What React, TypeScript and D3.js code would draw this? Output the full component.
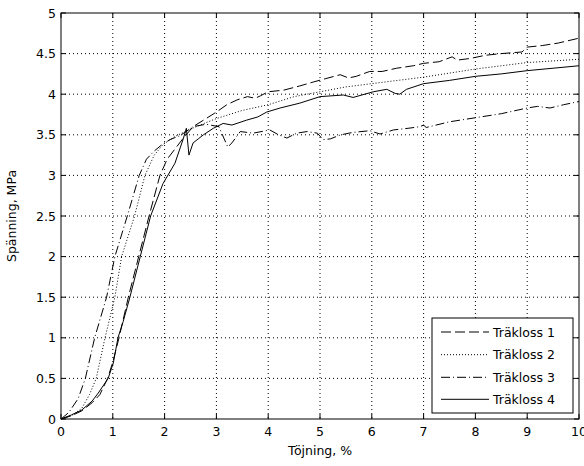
import React from "react";
import * as d3 from "d3";

const xTicks = [0, 1, 2, 3, 4, 5, 6, 7, 8, 9, 10];
const yTicks = [0, 0.5, 1, 1.5, 2, 2.5, 3, 3.5, 4, 4.5, 5];
const yTickLabels = ["0", "0.5", "1", "1.5", "2", "2.5", "3", "3.5", "4", "4.5", "5"];
const seriesNames = ["Träkloss 1", "Träkloss 2", "Träkloss 3", "Träkloss 4"];

const x1 = [0, 0.2, 0.4, 0.6, 0.75, 0.9, 1.0, 1.12, 1.3, 1.5, 1.7, 1.91, 2.05, 2.23, 2.35, 2.55, 2.8, 3.0, 3.2, 3.4, 3.6, 3.75, 3.85, 4.0, 4.3, 4.6, 4.87, 5.1, 5.39, 5.55, 5.7, 5.96, 6.2, 6.48, 6.8, 7.0, 7.3, 7.55, 7.65, 7.9, 8.2, 8.5, 8.9, 9.0, 9.3, 9.6, 10];
const y1 = [0, 0.04, 0.1, 0.2, 0.3, 0.5, 0.7, 1.0, 1.5, 2.0, 2.5, 3.0, 3.2, 3.35, 3.45, 3.6, 3.7, 3.78, 3.87, 3.93, 3.97, 3.95, 3.98, 4.03, 4.05, 4.1, 4.15, 4.19, 4.24, 4.2, 4.22, 4.28, 4.28, 4.32, 4.35, 4.38, 4.4, 4.46, 4.42, 4.44, 4.48, 4.5, 4.52, 4.58, 4.6, 4.63, 4.69];

const x2 = [0, 0.2, 0.4, 0.55, 0.68, 0.85, 1.04, 1.17, 1.42, 1.62, 1.8, 1.97, 2.2, 2.5, 2.8, 3.0, 3.5, 4.0, 4.5, 5.0, 5.5, 6.0, 6.5, 7.0, 7.5, 8.0, 8.5, 9.0, 9.5, 10];
const y2 = [0, 0.04, 0.13, 0.3, 0.5, 1.0, 1.5, 2.0, 2.5, 3.0, 3.25, 3.38, 3.48, 3.57, 3.65, 3.7, 3.8, 3.87, 3.97, 4.03, 4.09, 4.13, 4.17, 4.21, 4.26, 4.31, 4.35, 4.39, 4.41, 4.43];

const x3 = [0, 0.15, 0.33, 0.47, 0.65, 0.88, 1.04, 1.28, 1.51, 1.65, 1.8, 1.95, 2.1, 2.3, 2.55, 2.8, 3.05, 3.15, 3.22, 3.3, 3.46, 3.71, 4.03, 4.2, 4.36, 4.55, 4.75, 4.95, 5.06, 5.2, 5.4, 5.64, 5.96, 6.16, 6.42, 6.7, 6.93, 7.0, 7.05, 7.5, 8.0, 8.5, 9.0, 9.2, 9.44, 9.7, 10];
const y3 = [0, 0.08, 0.25, 0.5, 1.0, 1.5, 2.0, 2.5, 3.0, 3.2, 3.3, 3.38, 3.44, 3.49, 3.6, 3.63, 3.6, 3.45, 3.35, 3.4, 3.54, 3.52, 3.56, 3.5, 3.46, 3.52, 3.54, 3.52, 3.44, 3.45, 3.5, 3.53, 3.55, 3.51, 3.56, 3.58, 3.6, 3.62, 3.59, 3.66, 3.71, 3.76, 3.83, 3.85, 3.83, 3.87, 3.91];

const x4 = [0, 0.2, 0.4, 0.6, 0.72, 0.91, 1.01, 1.1, 1.2, 1.33, 1.53, 1.73, 1.97, 2.2, 2.36, 2.42, 2.47, 2.55, 2.65, 2.75, 2.94, 3.13, 3.3, 3.58, 3.8, 3.97, 4.23, 4.61, 5.0, 5.45, 5.64, 6.03, 6.29, 6.45, 6.54, 6.67, 7.0, 7.5, 8.0, 8.5, 9.0, 9.5, 10];
const y4 = [0, 0.05, 0.11, 0.22, 0.32, 0.5, 0.69, 1.0, 1.2, 1.5, 2.0, 2.5, 2.9, 3.15, 3.45, 3.58, 3.25, 3.4, 3.45, 3.5, 3.58, 3.64, 3.62, 3.68, 3.72, 3.78, 3.83, 3.89, 3.97, 3.99, 3.96, 4.03, 4.06, 4.01, 4.0, 4.06, 4.13, 4.17, 4.22, 4.25, 4.29, 4.32, 4.35];

const seriesX = [x1, x2, x3, x4];
const seriesY = [y1, y2, y3, y4];
const dashes = ["10,4", "1,2", "9,3,1,3", "none"];

const W = 584;
const H = 466;
const L = 61, R = 579, T = 13, B = 419;
const FONT = "'DejaVu Sans', sans-serif";
const FS = 12.5;

export default function App() {
  const xs = d3.scaleLinear().domain([0, 10]).range([L, R]);
  const ys = d3.scaleLinear().domain([0, 5]).range([B, T]);
  const line = d3
    .line<[number, number]>()
    .x((d) => xs(d[0]))
    .y((d) => ys(d[1]));

  const legL = 432, legR = 573, legT = 318, legB = 413;
  const legRows = [332, 354.7, 377.3, 399.3];

  return (
    <svg
      width={W}
      height={H}
      style={{ position: "absolute", left: 0, top: 0, background: "#fff" }}
      fontFamily={FONT}
    >
      <rect x={0} y={0} width={W} height={H} fill="#fff" />
      {/* grid */}
      {xTicks.slice(1, -1).map((t) => (
        <line key={"gx" + t} x1={xs(t)} x2={xs(t)} y1={T} y2={B} stroke="#000" strokeWidth={1} strokeDasharray="1,3" />
      ))}
      {yTicks.slice(1, -1).map((t) => (
        <line key={"gy" + t} x1={L} x2={R} y1={ys(t)} y2={ys(t)} stroke="#000" strokeWidth={1} strokeDasharray="1,3" />
      ))}
      {/* series */}
      {seriesX.map((xsArr, i) => (
        <path
          key={"s" + i}
          d={line(xsArr.map((v, j) => [v, seriesY[i][j]] as [number, number])) || ""}
          fill="none"
          stroke="#000"
          strokeWidth={1}
          strokeDasharray={dashes[i]}
        />
      ))}
      {/* box */}
      <rect x={L} y={T} width={R - L} height={B - T} fill="none" stroke="#000" strokeWidth={1} />
      {/* ticks */}
      {xTicks.map((t) => (
        <g key={"tx" + t}>
          <line x1={xs(t)} x2={xs(t)} y1={B} y2={B - 5} stroke="#000" />
          <line x1={xs(t)} x2={xs(t)} y1={T} y2={T + 5} stroke="#000" />
          <text x={xs(t)} y={B + 17} fontSize={FS} textAnchor="middle" fill="#000">
            {t}
          </text>
        </g>
      ))}
      {yTicks.map((t, i) => (
        <g key={"ty" + t}>
          <line x1={L} x2={L + 5} y1={ys(t)} y2={ys(t)} stroke="#000" />
          <line x1={R} x2={R - 5} y1={ys(t)} y2={ys(t)} stroke="#000" />
          <text x={L - 5} y={ys(t) + 4.5} fontSize={FS} textAnchor="end" fill="#000">
            {yTickLabels[i]}
          </text>
        </g>
      ))}
      {/* labels */}
      <text x={(L + R) / 2} y={455} fontSize={FS} textAnchor="middle" fill="#000">
        Töjning, %
      </text>
      <text
        transform={`translate(16, ${(T + B) / 2}) rotate(-90)`}
        fontSize={FS}
        textAnchor="middle"
        fill="#000"
      >
        Spänning, MPa
      </text>
      {/* legend */}
      <rect x={legL} y={legT} width={legR - legL} height={legB - legT} fill="#fff" stroke="#000" strokeWidth={1} />
      {seriesNames.map((n, i) => (
        <g key={"lg" + i}>
          <line x1={441} x2={489} y1={legRows[i]} y2={legRows[i]} stroke="#000" strokeWidth={1} strokeDasharray={dashes[i]} />
          <text x={493} y={legRows[i] + 4.5} fontSize={FS} fill="#000">
            {n}
          </text>
        </g>
      ))}
    </svg>
  );
}
